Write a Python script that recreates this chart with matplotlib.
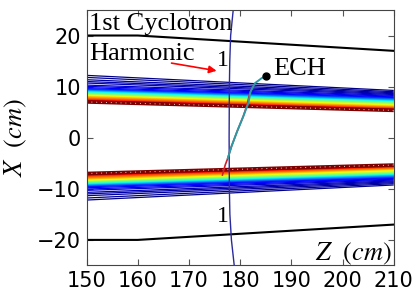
import matplotlib
matplotlib.use("Agg")
import matplotlib.pyplot as plt
from matplotlib import cm

plt.rcParams["mathtext.fontset"] = "stix"

# Z range of the plot (cm)
Z_START = 150
Z_END = 210

# Lines of the upper band: level, X at Z=150, X at Z=210 (lower band is its mirror)
band_levels = [1.00, 0.97, 0.94, 0.91, 0.88, 0.85, 0.82, 0.79, 0.76, 0.73,
               0.70, 0.67, 0.64, 0.61, 0.58, 0.55, 0.52, 0.49, 0.46, 0.43,
               0.40, 0.37, 0.34, 0.31, 0.28, 0.25, 0.22, 0.19, 0.16, 0.13,
               0.11, 0.09, 0.07, 0.05, 0.04, 0.03, 0.02, 0.01]
band_x_start = [7.00, 7.09, 7.18, 7.27, 7.37, 7.47, 7.58, 7.70, 7.82, 7.94,
                8.04, 8.13, 8.22, 8.29, 8.36, 8.43, 8.50, 8.58, 8.66, 8.74,
                8.82, 8.92, 9.00, 9.08, 9.15, 9.22, 9.29, 9.36, 9.45, 9.60,
                9.80, 10.05, 10.30, 10.70, 11.00, 11.35, 11.80, 12.20]
band_x_end = [5.35, 5.42, 5.50, 5.57, 5.65, 5.73, 5.82, 5.90, 5.98, 6.06,
              6.15, 6.25, 6.36, 6.45, 6.54, 6.63, 6.72, 6.80, 6.88, 6.95,
              7.02, 7.10, 7.18, 7.27, 7.36, 7.45, 7.54, 7.63, 7.72, 7.85,
              7.98, 8.12, 8.28, 8.45, 8.62, 8.80, 9.00, 9.25]

# Wall (black lines)
wall_z = [150, 160, 210]
wall_x = [20, 20, 17]

# Resonance contour "1"
res_x = [25, 20, 15, 10, 0, -10, -15, -20, -25]
res_z = [178.65, 178.15, 177.98, 177.9, 177.85, 177.9, 178.0, 178.3, 178.85]

# ECH ray paths
ray_cyan_z = [185.0, 184.2, 182.9, 182.05, 181.6, 180.6, 179.4, 178.3, 177.6]
ray_cyan_x = [12.1, 11.65, 10.67, 9.03, 6.75, 4.13, 1.2, -1.74, -4.0]
ray_red_z = [176.55, 177.1, 177.6, 178.3, 179.4, 180.6, 181.35, 181.85, 182.4]
ray_red_x = [-7.3, -5.3, -4.0, -1.74, 1.2, 4.13, 6.4, 8.6, 9.9]

serif = "Liberation Serif"

fig = plt.figure(figsize=(4.14, 2.93), dpi=100)
ax = fig.add_axes([0.209, 0.094, 0.742, 0.872])

# bands, drawn from outer (blue) to inner (red)
for sign in (1, -1):
    for lev, x0, x1 in sorted(zip(band_levels, band_x_start, band_x_end)):
        lw = 2.6 if lev == 1.0 else 0.9
        ax.plot([Z_START, Z_END], [sign * x0, sign * x1],
                color=cm.jet(lev), lw=lw, solid_capstyle="butt")
    ax.plot([Z_START, Z_END], [sign * band_x_start[0], sign * band_x_end[0]],
            color="white", lw=0.7, ls=(0, (1, 4)), alpha=0.8)

ax.plot(wall_z, wall_x, color="black", lw=1.5)
ax.plot(wall_z, [-v for v in wall_x], color="black", lw=1.5)

ax.plot(res_z, res_x, color="#2a2a9c", lw=1.0)
ax.text(176.6, 15.1, "1", family=serif, fontsize=17, ha="center", va="center")
ax.text(176.6, -15.5, "1", family=serif, fontsize=17, ha="center", va="center")

ax.plot(ray_red_z, ray_red_x, color="#d0202a", lw=1.2)
ax.plot(ray_cyan_z, ray_cyan_x, color="#2a9aa6", lw=1.4)
ax.plot(ray_cyan_z[0], ray_cyan_x[0], "o", color="black", ms=5)

ax.text(186.5, 12.3, "ECH", family=serif, fontsize=19, va="baseline")
ax.text(150.5, 21.0, "1st Cyclotron", family=serif, fontsize=19, va="baseline")
ax.text(150.5, 15.2, "Harmonic", family=serif, fontsize=19, va="baseline")
ax.annotate("", xy=(175.4, 13.1), xytext=(166.6, 14.6),
            arrowprops=dict(arrowstyle="-|>", color="red", lw=1.2,
                            mutation_scale=11, shrinkA=0, shrinkB=0))

ax.text(209.5, -24.1, r"$Z\ \ (cm)$", fontsize=19, ha="right", va="baseline")
ax.set_ylabel(r"$X\ \ (cm)$", fontsize=19, labelpad=6)

ax.set_xlim(Z_START, Z_END)
ax.set_ylim(-25, 25)
ax.set_xticks([150, 160, 170, 180, 190, 200, 210])
ax.set_yticks([-20, -10, 0, 10, 20])
ax.tick_params(direction="in", top=True, right=True, labelsize=15,
               length=4, width=0.8, color="#555555", pad=4)
for s in ax.spines.values():
    s.set_color("#444444")

fig.savefig("out.png", dpi=100)
